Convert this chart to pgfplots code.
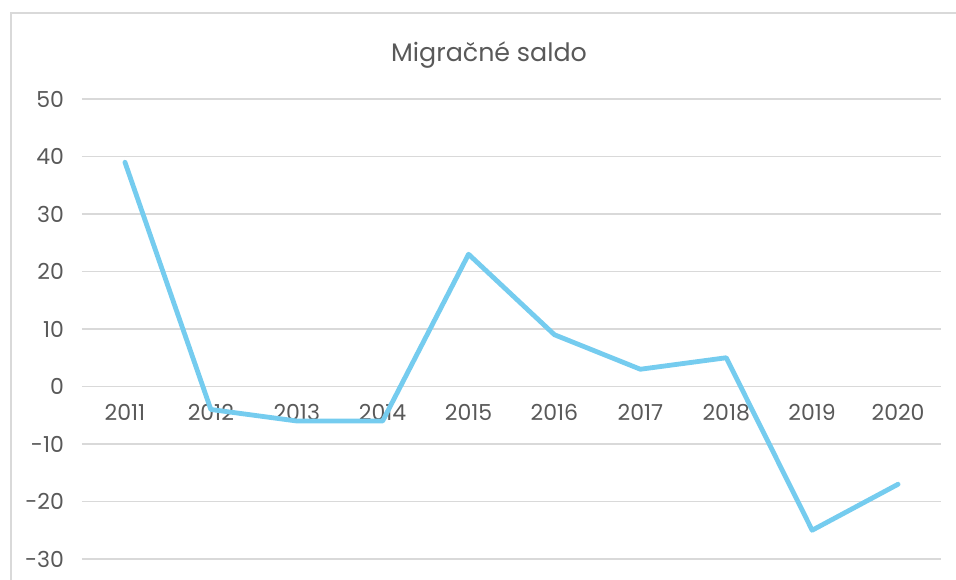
\documentclass[border=0pt]{standalone}
\usepackage{pgfplots}
\pgfplotsset{compat=1.18}
\usepackage{fontspec}
\setmainfont{Poppins}
\definecolor{gridc}{HTML}{D9D9D9}
\definecolor{txtc}{HTML}{595959}
\definecolor{linec}{HTML}{75CCEF}
\begin{document}
\begin{tikzpicture}
\useasboundingbox (0,0) rectangle (717pt,435pt);
\fill[white] (0,0) rectangle (717pt,435pt);
\draw[gridc, line width=1.1pt] (8.25pt,-2pt) -- (8.25pt,425.25pt) -- (720pt,425.25pt);
\node[txtc, font=\fontsize{19}{22}\selectfont] at (366.75pt,393.5pt) {Migračné saldo};
\begin{axis}[
  at={(61.5pt,15.75pt)}, anchor=south west,
  scale only axis, width=644.25pt, height=345pt,
  xmin=-0.5, xmax=9.5, ymin=-30, ymax=50,
  axis x line=middle, axis y line=left,
  axis line style={draw=none},
  major tick length=0pt,
  xtick={0,...,9},
  xticklabels={2011,2012,2013,2014,2015,2016,2017,2018,2019,2020},
  ytick={-30,-20,...,50},
  yticklabels={-30,-20,-10,0,10,20,30,40,50},
  ymajorgrids, grid style={gridc, line width=1.1pt},
  tick label style={txtc, font=\fontsize{16.5}{19}\selectfont},
  xticklabel style={anchor=north, yshift=-10pt},
  yticklabel style={anchor=east, xshift=-10pt},
  clip=false,
]
\addplot[linec, line width=3.6pt, line join=round, line cap=round] coordinates {
(0,39) (1,-4) (2,-6) (3,-6) (4,23) (5,9) (6,3) (7,5) (8,-25) (9,-17)
};
\end{axis}
\end{tikzpicture}
\end{document}
